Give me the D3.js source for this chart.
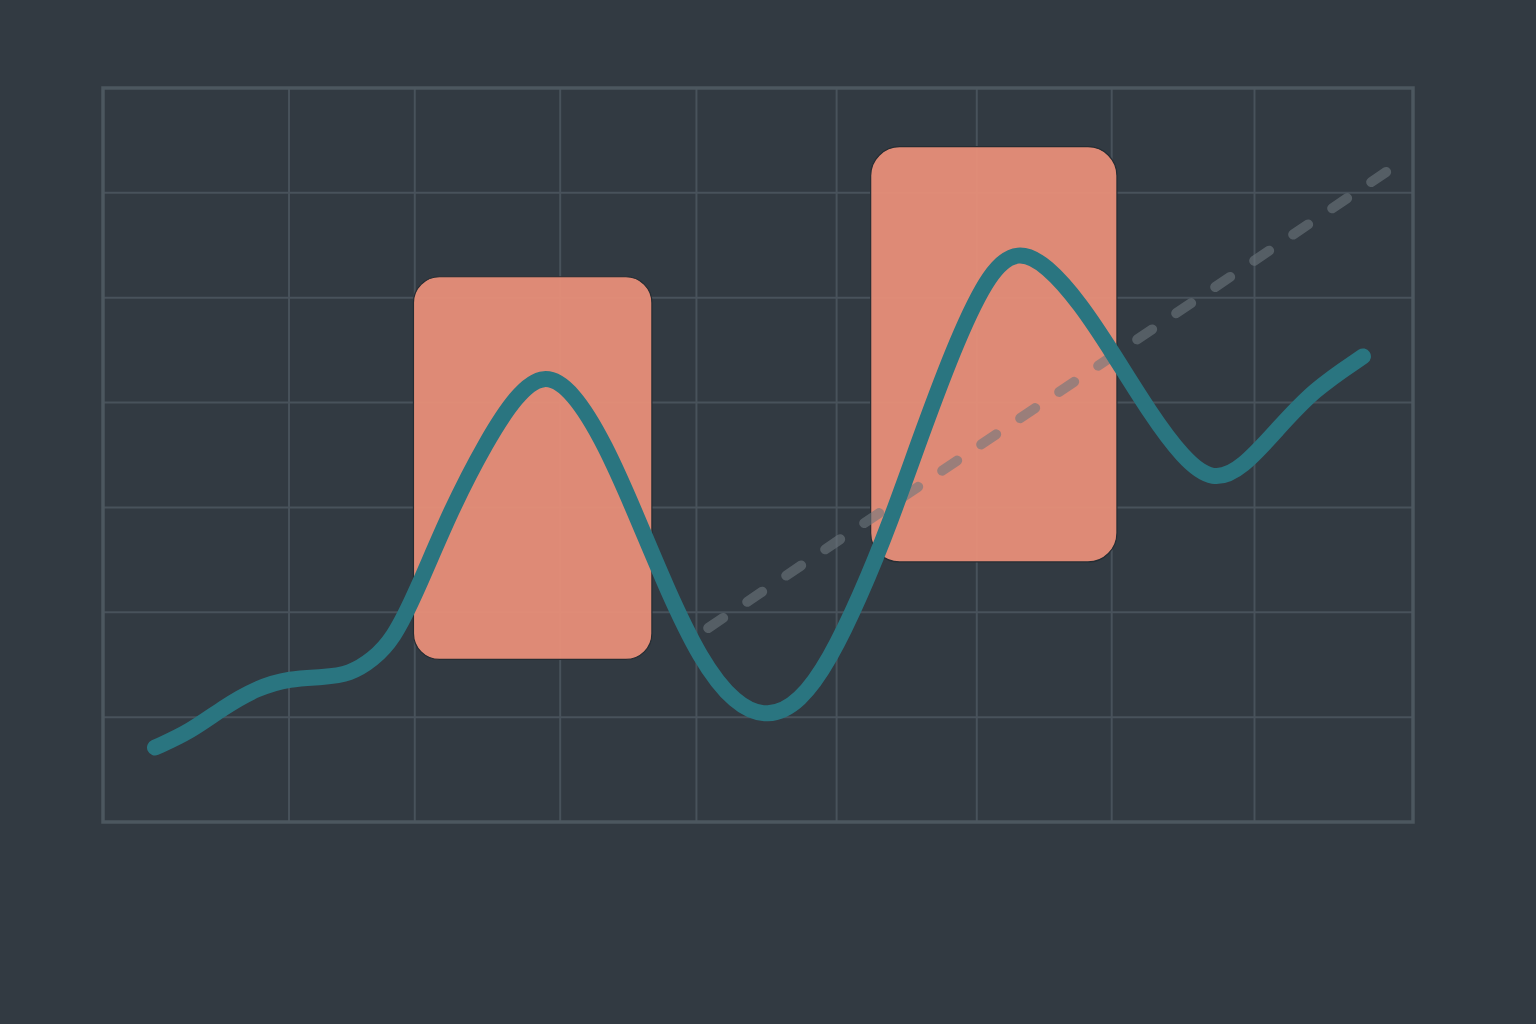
<!DOCTYPE html>
<html>
    <head>
        <meta charset=utf-8>
        <title>wave chart</title>
        <style>
body { margin: 0; background: #323a42; }
svg { display: block; }
        </style>
    </head>
    <body>
        <div id="chart"></div>
        <script src="https://d3js.org/d3.v7.min.js"></script>
        <script>
            // data, in chart units (x 0..100, y 0..7)
            const gridX = [14.2, 23.8, 34.9, 45.3, 56.0, 66.7, 77.0, 87.9]
            const gridY = [1, 2, 3, 4, 5, 6]

            const waveX = [3.97, 6.64, 9.16, 11.76, 14.27, 16.79, 18.85, 20.61, 22.14, 23.89, 26.56, 29.31, 31.53,
                           33.66, 35.88, 38.32, 40.76, 42.98, 45.57, 48.24, 50.76, 53.21, 55.50, 57.79, 60.08, 62.60,
                           65.19, 67.71, 69.85, 72.06, 74.58, 77.10, 79.92, 82.44, 84.73, 87.02, 89.62, 92.37, 96.18]
            const waveY = [0.71, 0.86, 1.09, 1.28, 1.37, 1.38, 1.41, 1.55, 1.74, 2.18, 2.98, 3.64, 4.07,
                           4.29, 4.11, 3.61, 2.91, 2.24, 1.55, 1.12, 0.99, 1.14, 1.55, 2.15, 2.85, 3.74,
                           4.60, 5.26, 5.46, 5.31, 4.95, 4.47, 3.90, 3.47, 3.24, 3.38, 3.74, 4.12, 4.44]

            const trendX = [46.2, 98.2]
            const trendY = [1.85, 6.22]

            // highlighted ranges
            const boxX0 = [23.7, 58.6]
            const boxX1 = [41.9, 77.4]
            const boxY0 = [1.55, 2.48]
            const boxY1 = [5.20, 6.44]

            const width = 1536
            const height = 1024
            const m = {left: 103, right: 1413, top: 88, bottom: 822}

            const x = d3.scaleLinear().domain([0, 100]).range([m.left, m.right])
            const y = d3.scaleLinear().domain([0, 7]).range([m.bottom, m.top])

            const svg = d3.select("#chart").append("svg")
                .attr("width", width)
                .attr("height", height)

            svg.append("rect")
                .attr("width", width)
                .attr("height", height)
                .attr("fill", "#323a42")

            // grid
            const grid = svg.append("g")
            grid.selectAll("line.vx")
                .data(gridX)
                .enter()
                .append("line")
                .attr("x1", d => x(d)).attr("x2", d => x(d))
                .attr("y1", m.top).attr("y2", m.bottom)
                .style("stroke", "#48525b")
                .style("stroke-width", 2)
            grid.selectAll("line.hy")
                .data(gridY)
                .enter()
                .append("line")
                .attr("y1", d => y(d)).attr("y2", d => y(d))
                .attr("x1", m.left).attr("x2", m.right)
                .style("stroke", "#48525b")
                .style("stroke-width", 2)

            // frame
            svg.append("rect")
                .attr("x", m.left).attr("y", m.top)
                .attr("width", m.right - m.left).attr("height", m.bottom - m.top)
                .style("fill", "none")
                .style("stroke", "#4c575f")
                .style("stroke-width", 3.5)

            // boxes
            svg.append("g")
                .selectAll("rect")
                .data(boxX0.map((d, i) => i))
                .enter()
                .append("rect")
                .attr("x", i => x(boxX0[i]))
                .attr("y", i => y(boxY1[i]))
                .attr("width", i => x(boxX1[i]) - x(boxX0[i]))
                .attr("height", i => y(boxY0[i]) - y(boxY1[i]))
                .attr("rx", i => i == 0 ? 26 : 29)
                .style("fill", "#e98f79")
                .style("fill-opacity", 0.94)
                .style("stroke", "#262d33")
                .style("stroke-width", 1.2)

            // dashed trend
            svg.append("path")
                .datum(trendX.map((d, i) => [d, trendY[i]]))
                .attr("d", d3.line().x(d => x(d[0])).y(d => y(d[1])))
                .style("fill", "none")
                .style("stroke", "#6c767d")
                .style("stroke-opacity", 0.6)
                .style("stroke-width", 10)
                .style("stroke-linecap", "round")
                .style("stroke-dasharray", "18 29")

            // wave
            svg.append("path")
                .datum(waveX.map((d, i) => [d, waveY[i]]))
                .attr("d", d3.line().curve(d3.curveBasis).x(d => x(d[0])).y(d => y(d[1])))
                .style("fill", "none")
                .style("stroke", "#2a7580")
                .style("stroke-width", 16)
                .style("stroke-linecap", "round")
                .style("stroke-linejoin", "round")
        </script>
    </body>
</html>
